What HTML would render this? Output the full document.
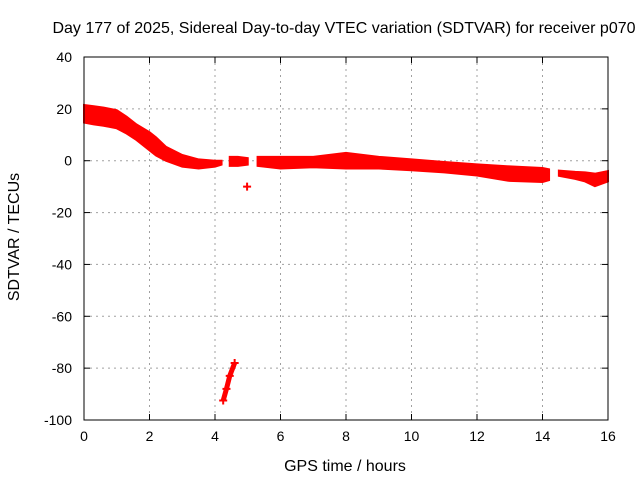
<!DOCTYPE html>
<html><head><meta charset="utf-8"><style>
body{margin:0;background:#fff}
svg text{font-family:"Liberation Sans",sans-serif;font-size:14px;fill:#000}
svg text.big{font-size:16px}
</style></head><body>
<svg id="c" width="640" height="480">
<rect width="640" height="480" fill="#fff"/>
<text class="big" x="344" y="33" text-anchor="middle">Day 177 of 2025, Sidereal Day-to-day VTEC variation (SDTVAR) for receiver p070</text>
<text class="big" x="345" y="471" text-anchor="middle">GPS time / hours</text>
<text class="big" transform="translate(19,237) rotate(-90)" text-anchor="middle">SDTVAR / TECUs</text>
<g id="grid"></g><g id="ticks"></g><g id="data"></g>
<rect x="84" y="57" width="524" height="363" fill="none" stroke="#000"/>
</svg>
<script>
const xTicks=[0,2,4,6,8,10,12,14,16];
const yTicks=[40,20,0,-20,-40,-60,-80,-100];
// band segments: hours, upper value, lower value
const seg1T=[0,0.3,0.6,1.0,1.3,1.6,2.0,2.2,2.5,3.0,3.5,4.0,4.2];
const seg1Hi=[21.5,21,20.5,19.5,17,14,11,9,5.4,2.2,0.5,0,0];
const seg1Lo=[14.7,14,13.5,12.5,10.5,8,4,2,0,-2.3,-3,-2.3,-1.5];
const seg2T=[4.45,4.7,5.0];
const seg2Hi=[1.5,1.5,1];
const seg2Lo=[-2,-2,-1.5];
const seg3T=[5.3,6,7,8,9,10,11,12,13,14,14.2];
const seg3Hi=[1.5,1.5,1.5,3,1.5,0.5,-0.5,-1.4,-2.2,-2.8,-3.3];
const seg3Lo=[-2,-3,-2.5,-3,-3,-3.7,-4.5,-5.7,-7.8,-8.2,-7.5];
const seg4T=[14.5,15,15.3,15.6,16];
const seg4Hi=[-3.8,-4.3,-4.5,-5,-4];
const seg4Lo=[-5.8,-7,-8,-9.8,-8];
const outT=[4.25,4.35,4.45,4.6];
const outV=[-92.5,-88,-83,-78];
const isoT=[4.98];const isoV=[-10];
const X=h=>84+h*524/16, Y=v=>57+(40-v)*363/140;
const NS='http://www.w3.org/2000/svg';
function mk(t,a,p){const e=document.createElementNS(NS,t);for(const k in a)e.setAttribute(k,a[k]);(p||document.getElementById('data')).appendChild(e);return e;}
const g=document.getElementById('grid'),tk=document.getElementById('ticks');
xTicks.forEach(h=>{
 if(h>0&&h<16){const l=mk('line',{x1:X(h),x2:X(h),y1:57,y2:420,stroke:'#a0a0a0','stroke-dasharray':'2,4'},g);
 
 }
 mk('line',{x1:X(h),x2:X(h),y1:420,y2:414,stroke:'#000'},tk);mk('line',{x1:X(h),x2:X(h),y1:57,y2:63,stroke:'#000'},tk);
 const t=mk('text',{x:X(h),y:441,'text-anchor':'middle'},tk);t.textContent=h;
 
 
});
yTicks.forEach(v=>{
 if(v<40&&v>-100){const l=mk('line',{x1:84,x2:608,y1:Y(v),y2:Y(v),stroke:'#a0a0a0','stroke-dasharray':'2,4'},g);
 
 }
 mk('line',{x1:84,x2:90,y1:Y(v),y2:Y(v),stroke:'#000'},tk);mk('line',{x1:608,x2:602,y1:Y(v),y2:Y(v),stroke:'#000'},tk);
 const t=mk('text',{x:72,y:Y(v)+5,'text-anchor':'end'},tk);t.textContent=v;
 
 
});
[[seg1T,seg1Hi,seg1Lo],[seg2T,seg2Hi,seg2Lo],[seg3T,seg3Hi,seg3Lo],[seg4T,seg4Hi,seg4Lo]].forEach(([t,hi,lo])=>{
 let pts=t.map((h,i)=>X(h)+','+Y(hi[i]));
 for(let i=t.length-1;i>=0;i--)pts.push(X(t[i])+','+Y(lo[i]));
 const p=mk('polygon',{points:pts.join(' '),fill:'#ff0000',stroke:'#ff0000','stroke-width':2});
 
 
});
function plus(h,v){const p=mk('path',{d:`M${X(h)-4},${Y(v)}h8M${X(h)},${Y(v)-4}v8`,stroke:'#ff0000','stroke-width':2});
 
 }
const ol=mk('polyline',{points:outT.map((h,i)=>X(h)+','+Y(outV[i])).join(' '),fill:'none',stroke:'#ff0000','stroke-width':5});


outT.forEach((h,i)=>plus(h,outV[i]));
isoT.forEach((h,i)=>plus(h,isoV[i]));
</script>
</body></html>
